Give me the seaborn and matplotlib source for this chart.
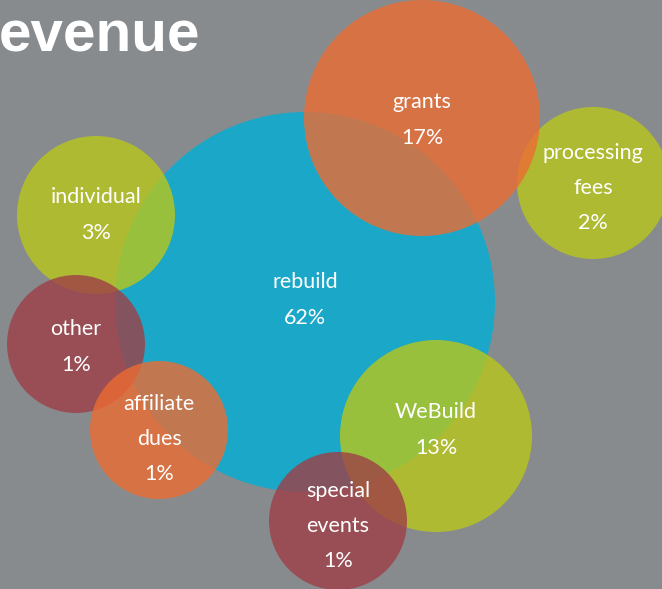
import pandas as pd
import matplotlib.pyplot as plt
import seaborn as sns

# data
sources = ["rebuild", "processing fees", "grants", "individual", "other",
           "affiliate dues", "WeBuild", "special events"]
shares = [62, 2, 17, 3, 1, 1, 13, 1]

# layout (pixel coords, y down) and colours
cx = [305, 593, 422, 96, 76, 159, 436, 338]
cy = [302, 183, 118, 215, 344, 430, 436, 521]
rad = [190, 76, 118, 79, 69, 69, 96, 69]
label_y = [300, 188, 120, 215, 347, 439, 430, 526]
colors = ["#00afd6", "#b8c71b", "#ec6c32", "#b8c71b", "#9e3f47",
          "#ec6c32", "#b8c71b", "#9e3f47"]
BG = "#888b8e"

W, H = 662, 589
sns.set_theme(style="white", rc={"figure.facecolor": BG, "axes.facecolor": BG})

df = pd.DataFrame({"source": sources, "share": shares, "x": cx, "y": cy})
# marker area in pt^2: 1 data unit = 1 px = 0.72 pt
sizes = [(2 * r * 0.72) ** 2 for r in rad]

fig = plt.figure(figsize=(W / 100, H / 100), dpi=100)
ax = fig.add_axes([0, 0, 1, 1])
sns.scatterplot(data=df, x="x", y="y", hue="source",
                palette=dict(zip(sources, colors)), s=sizes, alpha=0.8,
                edgecolor="none", legend=False, ax=ax)
ax.set_xlim(0, W)
ax.set_ylim(H, 0)
ax.set_axis_off()

# labels
for name, val, x, y in zip(df["source"], df["share"], df["x"], label_y):
    label = name.replace(" ", "\n") + f"\n{val}%"
    ax.text(x, y, label, ha="center", va="center", color="white",
            fontsize=15.5, family=["Lato", "DejaVu Sans"], linespacing=1.95)

# title (cropped on the left in the source image)
ax.text(-1, 52, "evenue", ha="left", va="baseline", color="white",
        fontsize=42, fontweight="bold", family=["Liberation Sans"])

fig.savefig("out.png", dpi=100, facecolor=BG)
